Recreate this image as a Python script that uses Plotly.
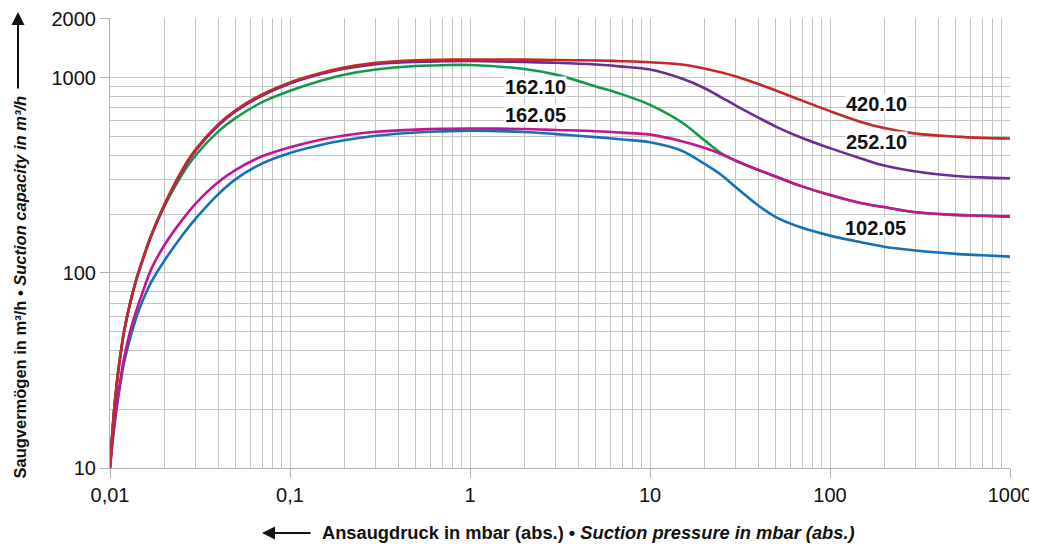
import math
import plotly.graph_objects as go

# Suction pressure in mbar (abs.)
pressure = [0.01, 0.0105, 0.011, 0.0115, 0.012, 0.013, 0.014, 0.015, 0.017, 0.02,
            0.025, 0.03, 0.04, 0.05, 0.07, 0.1, 0.15, 0.2, 0.3, 0.5,
            0.7, 1, 2, 3, 5, 7, 10, 15, 20, 25,
            30, 40, 50, 70, 100, 150, 200, 300, 500, 700, 1000]

# Suction capacity in m3/h
cap_420_10 = [10, 19, 29, 39.5, 50.6, 71.4, 92.5, 113, 157, 223,
              333, 430, 577, 682, 820, 945, 1058, 1124, 1189, 1226,
              1234, 1236, 1236, 1230, 1222, 1213, 1198, 1166, 1112, 1061,
              1012, 926, 858, 762, 673, 591, 551, 516, 498, 491, 487]
cap_252_10 = [10, 19, 29, 39.5, 50.6, 71, 92, 112, 155, 220,
              328, 424, 568, 672, 808, 932, 1045, 1110, 1172, 1203,
              1211, 1215, 1201, 1190, 1166, 1138, 1099, 988, 884, 790,
              719, 624, 561, 490, 435, 384, 354, 330, 313, 308, 305]
cap_162_10 = [10, 19, 29, 39.5, 50.6, 71.4, 92.5, 113, 157, 219,
              316, 401, 530, 622, 748, 856, 967, 1034, 1099, 1145,
              1157, 1159, 1106, 1035, 900, 820, 725, 590, 478, 408,
              375, 336, 311, 277, 250, 227, 217, 204, 198, 196, 194]
cap_162_05 = [10, 16, 22.5, 29.5, 37, 51, 64, 77, 105, 138,
              185, 227, 292, 337, 395, 440, 482, 505, 528, 541,
              546, 548, 545, 539, 531, 522, 510, 472, 437, 405,
              375, 336, 311, 277, 250, 227, 217, 204, 198, 196, 194]
cap_102_05 = [10, 15.5, 21.5, 28, 35, 47, 59, 70, 90, 115,
              154, 190, 253, 302, 363, 411, 453, 477, 503, 523,
              530, 535, 526, 513, 495, 482, 466, 422, 362, 316,
              274, 221, 193, 170, 155, 143, 136, 130, 125, 123, 121]

# draw order: bottom first
series_names = ["102.05", "162.10", "162.05", "252.10", "420.10"]
series_values = [cap_102_05, cap_162_10, cap_162_05, cap_252_10, cap_420_10]
series_colors = ["#1570b8", "#139a48", "#c4168c", "#6b2d8f", "#c4282c"]

# curve labels (pressure, capacity)
label_texts = ["420.10", "252.10", "102.05", "162.10", "162.05"]
label_x = [182, 182, 180, 2.3, 2.3]
label_y = [735, 468, 170, 895, 650]

x_tickvals = [0.01, 0.1, 1, 10, 100, 1000]
x_ticktext = ["0,01", "0,1", "1", "10", "100", "1000"]
y_tickvals = [10, 100, 1000, 2000]
y_ticktext = ["10", "100", "1000", "2000"]

FONT = "Liberation Sans, Arial, Helvetica, sans-serif"
GRID = "#c4c4c4"

fig = go.Figure()
for name, vals, col in zip(series_names, series_values, series_colors):
    fig.add_trace(go.Scatter(x=pressure, y=vals, mode="lines", name=name,
                             line=dict(color=col, width=2.6, shape="spline", smoothing=1.0),
                             showlegend=False, hoverinfo="x+y+name"))

for t, lx, ly in zip(label_texts, label_x, label_y):
    fig.add_annotation(x=math.log10(lx), y=math.log10(ly), xref="x", yref="y",
                       text="<b>" + t + "</b>", showarrow=False, height=19,
                       font=dict(family=FONT, size=20, color="#111111"),
                       bgcolor="white", borderpad=0)

# axis titles
fig.add_annotation(x=-0.1, y=0.401, xref="paper", yref="paper", textangle=-90,
                   xanchor="center", yanchor="middle",
                   text="<b>Saugvermögen in m³/h • <i>Suction capacity in m³/h</i></b>",
                   showarrow=False, font=dict(family=FONT, size=16.5, color="#111111"))
fig.add_annotation(x=0.532, y=-0.1444, xref="paper", yref="paper",
                   xanchor="center", yanchor="middle",
                   text="<b>Ansaugdruck in mbar (abs.) • <i>Suction pressure in mbar (abs.)</i></b>",
                   showarrow=False, font=dict(family=FONT, size=18.3, color="#111111"))
# arrows
fig.add_annotation(x=-0.1022, y=1.0133, xref="paper", yref="paper", text="",
                   showarrow=True, ax=0, ay=78, arrowhead=2, arrowsize=1.3,
                   arrowwidth=2, arrowcolor="#111111")
fig.add_annotation(x=(262 - 110) / 900, y=-0.1444, xref="paper", yref="paper", text="",
                   showarrow=True, ax=50, ay=0, arrowhead=2, arrowsize=1.3,
                   arrowwidth=2, arrowcolor="#111111")

fig.update_xaxes(type="log", range=[-2, 3], tickvals=x_tickvals, ticktext=x_ticktext,
                 automargin=False, ticklabeloverflow="allow",
                 showgrid=True, gridcolor=GRID, gridwidth=1,
                 minor=dict(dtick="D1", showgrid=True, gridcolor=GRID, gridwidth=1, ticks=""),
                 ticks="outside", ticklen=9, tickcolor="#b0b0b0", tickwidth=1,
                 showline=True, linecolor="#b0b0b0", linewidth=1, zeroline=False,
                 tickfont=dict(family=FONT, size=20, color="#111111"))
fig.update_yaxes(type="log", range=[1, math.log10(2000) + 0.004], tickvals=y_tickvals, ticktext=y_ticktext,
                 automargin=False, ticklabeloverflow="allow",
                 showgrid=True, gridcolor=GRID, gridwidth=1,
                 minor=dict(dtick="D1", showgrid=True, gridcolor=GRID, gridwidth=1, ticks=""),
                 ticks="outside", ticklen=9, tickcolor="#b0b0b0", tickwidth=1,
                 showline=True, linecolor="#b0b0b0", linewidth=1, zeroline=False,
                 tickfont=dict(family=FONT, size=20, color="#111111"))

# the page body adds an 8px margin, so the figure is sized to fit the 1037x544 window
fig.update_layout(width=1029, height=536, margin=dict(l=102, r=27, t=10, b=76),
                  paper_bgcolor="white", plot_bgcolor="white", showlegend=False)

fig.write_html("out.html")
